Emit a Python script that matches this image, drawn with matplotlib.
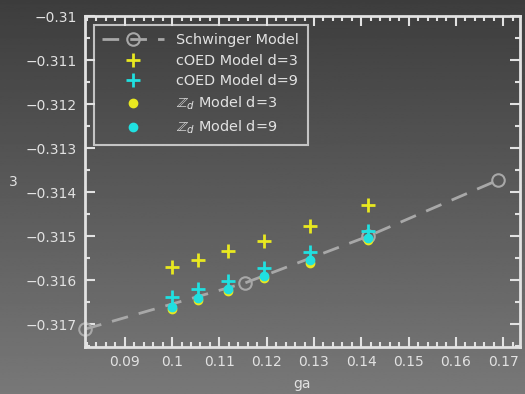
import matplotlib.pyplot as plt
import numpy as np
from matplotlib.ticker import MultipleLocator

# lattice spacing ga and ground state values
ga_schwinger = [0.08165, 0.11547, 0.14142, 0.16880]
e_schwinger = [-0.31711, -0.31606, -0.31500, -0.31373]

ga_points = [0.1000, 0.1054, 0.1118, 0.1195, 0.1291, 0.1414]
e_coed_d3 = [-0.31571, -0.31555, -0.31534, -0.31511, -0.31477, -0.31430]
e_coed_d9 = [-0.31639, -0.31621, -0.31602, -0.31573, -0.31536, -0.31488]
e_zd_d3 = [-0.31665, -0.31645, -0.31624, -0.31595, -0.31560, -0.31509]
e_zd_d9 = [-0.31661, -0.31640, -0.31619, -0.31590, -0.31555, -0.31503]

fg = '#e2e2e2'

fig = plt.figure(figsize=(5.25, 3.94), dpi=100)

# grey vertical gradient behind everything
bg = fig.add_axes([0, 0, 1, 1], zorder=-1)
grad = np.linspace(0.24, 0.47, 256).reshape(-1, 1)
bg.imshow(grad, aspect='auto', cmap='gray', vmin=0, vmax=1, extent=[0, 1, 0, 1])
bg.set_axis_off()

ax = fig.add_axes([0.162, 0.119, 0.828, 0.840])
ax.set_facecolor('none')

ax.plot(ga_schwinger, e_schwinger, ls=(0, (6, 4)), color='#a8a8a8', lw=2,
        marker='o', ms=9, mfc='none', mec='#a8a8a8', mew=1.5,
        label='Schwinger Model', clip_on=False)
ax.plot(ga_points, e_coed_d3, ls='none', marker='+', ms=10, mew=2,
        color='#e8e820', label='cOED Model d=3')
ax.plot(ga_points, e_coed_d9, ls='none', marker='+', ms=10, mew=2,
        color='#20e0e0', label='cOED Model d=9')
ax.plot(ga_points, e_zd_d3, ls='none', marker='o', ms=6,
        color='#e8e820', label=r'$\mathbb{Z}_d$ Model d=3')
ax.plot(ga_points, e_zd_d9, ls='none', marker='o', ms=6,
        color='#20e0e0', label=r'$\mathbb{Z}_d$ Model d=9')

ax.set_xlim(0.0816, 0.1735)
ax.set_ylim(-0.31752, -0.31)

ax.xaxis.set_major_locator(MultipleLocator(0.01))
ax.xaxis.set_minor_locator(MultipleLocator(0.002))
ax.yaxis.set_major_locator(MultipleLocator(0.001))
ax.yaxis.set_minor_locator(MultipleLocator(0.0005))
ax.set_xticks([0.09, 0.1, 0.11, 0.12, 0.13, 0.14, 0.15, 0.16, 0.17])
ax.set_xticklabels(['0.09', '0.1', '0.11', '0.12', '0.13', '0.14', '0.15', '0.16', '0.17'])
ax.set_yticks([-0.31, -0.311, -0.312, -0.313, -0.314, -0.315, -0.316, -0.317])
ax.set_yticklabels(['\u22120.31', '\u22120.311', '\u22120.312', '\u22120.313',
                    '\u22120.314', '\u22120.315', '\u22120.316', '\u22120.317'])

ax.tick_params(which='both', direction='in', top=True, right=True,
               colors=fg, labelcolor=fg, labelsize=10, width=1.5)
ax.tick_params(which='major', length=7, pad=6)
ax.tick_params(which='minor', length=3.5)
for s in ax.spines.values():
    s.set_color(fg)
    s.set_linewidth(2)

ax.set_xlabel('ga', color=fg, fontsize=10, labelpad=5.5)
ax.set_ylabel('3', color=fg, fontsize=10, rotation=0, va='center')
ax.yaxis.set_label_coords(-0.165, 0.5)

leg = ax.legend(loc='upper left', fontsize=10.4, frameon=True, fancybox=False,
                handlelength=4.3, handletextpad=0.8, labelspacing=0.45,
                borderaxespad=0.6, borderpad=0.6, numpoints=1)
leg.get_frame().set_facecolor('none')
leg.get_frame().set_edgecolor(fg)
leg.get_frame().set_linewidth(1.5)
for t in leg.get_texts():
    t.set_color(fg)

fig.savefig('out.png', dpi=100)
